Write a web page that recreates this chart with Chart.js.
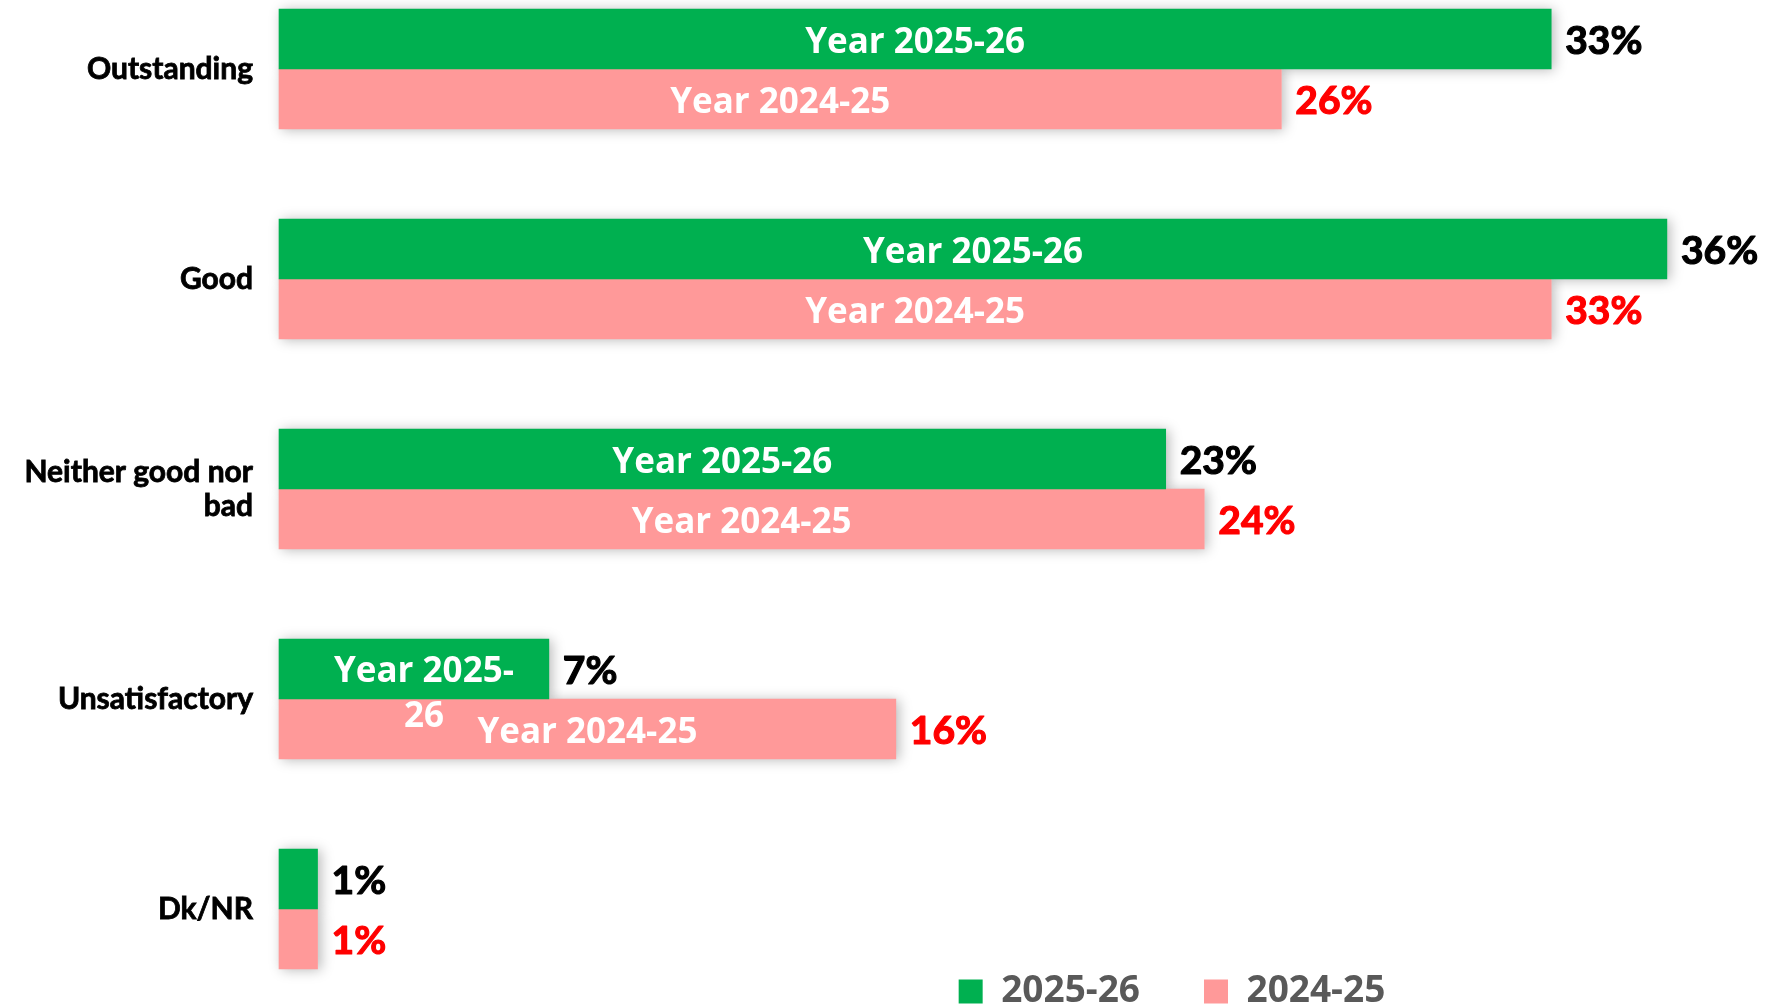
<!DOCTYPE html>
<html>
<head>
<meta charset="utf-8">
<script src="https://cdn.jsdelivr.net/npm/chart.js@4/dist/chart.umd.min.js"></script>
<style>
  html, body { margin: 0; padding: 0; background: #ffffff; }
  #wrap { width: 1774px; height: 1004px; position: relative; }
</style>
</head>
<body>
<div id="wrap"><canvas id="chart"></canvas></div>
<script>
const categories = ['Outstanding', 'Good', ['Neither good nor', 'bad'], 'Unsatisfactory', 'Dk/NR'];
const seriesNames = ['2025-26', '2024-25'];
const innerLabels = ['Year 2025-26', 'Year 2024-25'];
const values2025 = [33, 36, 23, 7, 1];
const values2024 = [26, 33, 24, 16, 1];

const GREEN = '#00B050';
const PINK = '#FF9999';
const valueColors = ['#000000', '#FF0000'];

// soft outer shadow behind the bars + value / inner labels
const barDecor = {
  id: 'barDecor',
  beforeDatasetsDraw(chart) {
    const ctx = chart.ctx;
    ctx.save();
    ctx.shadowColor = 'rgba(0,0,0,0.28)';
    ctx.shadowBlur = 12;
    ctx.shadowOffsetX = 3;
    ctx.shadowOffsetY = 1;
    ctx.fillStyle = '#ffffff';
    chart.data.datasets.forEach((ds, i) => {
      chart.getDatasetMeta(i).data.forEach(bar => {
        const { x, y, base, height } = bar.getProps(['x', 'y', 'base', 'height'], true);
        ctx.fillRect(base, y - height / 2, x - base, height);
      });
    });
    ctx.restore();
  },
  afterDatasetsDraw(chart) {
    const ctx = chart.ctx;
    ctx.save();
    ctx.textBaseline = 'middle';
    ctx.lineJoin = 'round';
    chart.data.datasets.forEach((ds, i) => {
      chart.getDatasetMeta(i).data.forEach((bar, j) => {
        const { x, y, base } = bar.getProps(['x', 'y', 'base'], true);
        const width = x - base;

        ctx.font = 'bold 39px Lato';
        ctx.textAlign = 'left';
        ctx.fillStyle = valueColors[i];
        ctx.strokeStyle = valueColors[i];
        ctx.lineWidth = 1.2;
        ctx.strokeText(ds.data[j] + '%', x + 14, y + 2);
        ctx.fillText(ds.data[j] + '%', x + 14, y + 2);

        if (width < 100) return;
        ctx.font = 'bold 35px "Open Sans"';
        ctx.textAlign = 'center';
        ctx.fillStyle = '#ffffff';
        const text = innerLabels[i];
        const cx = (x + base) / 2;
        if (ctx.measureText(text).width + 80 > width) {
          const cut = text.lastIndexOf('-') + 1;
          ctx.fillText(text.slice(0, cut), cx + 10, y + 3);
          ctx.fillText(text.slice(cut), cx + 10, y + 48);
        } else {
          ctx.fillText(text, cx, y + 4);
        }
      });
    });
    ctx.restore();
  }
};

// the legend sits right of centre in the original
const legendShift = {
  id: 'legendShift',
  afterLayout(chart) {
    if (!chart.legend) return;
    chart.legend.left += 300;
    chart.legend.right += 300;
  }
};

new Chart(document.getElementById('chart'), {
  type: 'bar',
  data: {
    labels: categories,
    datasets: [
      { label: seriesNames[0], data: values2025, backgroundColor: GREEN, barThickness: 60, clip: false },
      { label: seriesNames[1], data: values2024, backgroundColor: PINK, barThickness: 60, clip: false }
    ]
  },
  options: {
    indexAxis: 'y',
    responsive: true,
    maintainAspectRatio: false,
    animation: false,
    layout: { padding: { top: 69, bottom: -16, left: 0, right: 30 } },
    scales: {
      x: { display: false, min: 0, max: 38 },
      y: {
        offset: false,
        grid: { display: false, drawTicks: false },
        border: { display: false },
        afterFit: scale => { scale.width = 279; },
        ticks: {
          padding: 26,
          color: '#000000',
          textStrokeColor: '#000000',
          textStrokeWidth: 0.8,
          font: { family: 'Lato', weight: 'bold', size: 30, lineHeight: 1.13 }
        }
      }
    },
    plugins: {
      legend: {
        position: 'bottom',
        labels: {
          boxWidth: 24,
          boxHeight: 24,
          padding: 64,
          color: '#595959',
          font: { family: 'Open Sans', weight: 'bold', size: 37 }
        }
      },
      tooltip: { enabled: false }
    }
  },
  plugins: [barDecor, legendShift]
});
</script>
</body>
</html>
